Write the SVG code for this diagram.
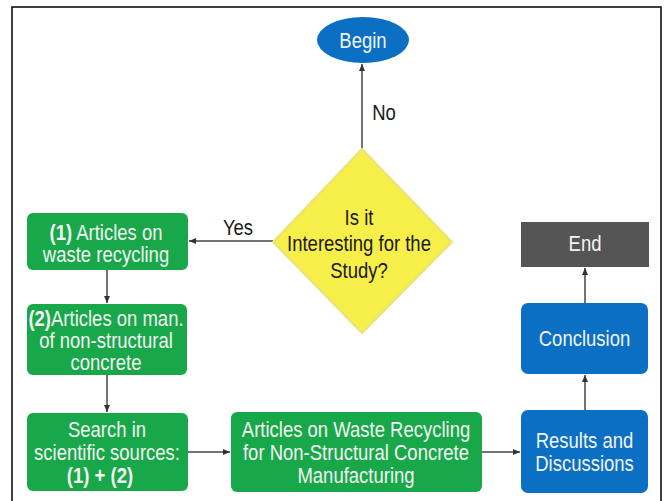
<svg xmlns="http://www.w3.org/2000/svg" width="665" height="501" viewBox="0 0 665 501">
<defs>
<style>
.t{font-family:"Liberation Sans",Arial,sans-serif;font-size:18.5px;text-anchor:middle}
.w{fill:#f2f4f2}
.d{fill:#1a1a1a}
.g{fill:#18a84a}
.b{fill:#0b6fc3}
.c{stroke:#444;stroke-width:1.5;fill:none;marker-end:url(#ah)}
</style>
<marker id="ah" markerUnits="userSpaceOnUse" markerWidth="8" markerHeight="8" refX="7" refY="4" orient="auto">
<path d="M0,1 L7,4 L0,7 Z" fill="#333"/>
</marker>
</defs>
<rect width="665" height="501" fill="#fff"/>
<rect x="12" y="7" width="649" height="520" fill="none" stroke="#111" stroke-width="1.6"/>
<g id="connectors">
<path class="c" d="M362,150 L362,64"/>
<path class="c" d="M273,241 L189,241"/>
<path class="c" d="M107,270 L107,303"/>
<path class="c" d="M107,375 L107,412"/>
<path class="c" d="M188,452 L230,452"/>
<path class="c" d="M482,452 L520,452"/>
<path class="c" d="M585,410 L585,375"/>
<path class="c" d="M585,303 L585,268"/>
<text class="t d" transform="translate(384,119.5) scale(1,1.18)">No</text>
<text class="t d" transform="translate(238,234.5) scale(1,1.18)">Yes</text>
</g>
<g id="begin">
<ellipse cx="363" cy="40" rx="46" ry="23" class="b"/>
<text class="t w" transform="translate(363,47.5) scale(1,1.18)">Begin</text>
</g>
<g id="decision">
<polygon points="362,149 452,242 362,333 273,242" fill="#f6ef4a" stroke="#ebe27a" stroke-width="2"/>
<text class="t d" transform="translate(359,224.5) scale(1,1.18)">Is it</text>
<text class="t d" transform="translate(359,250.5) scale(1,1.18)">Interesting for the</text>
<text class="t d" transform="translate(359,277.5) scale(1,1.18)">Study?</text>
</g>
<g id="n1">
<rect x="27" y="213" width="161" height="57" rx="6" class="g"/>
<text class="t w" transform="translate(106,239.5) scale(1,1.18)"><tspan font-weight="bold">(1)</tspan> Articles on</text>
<text class="t w" transform="translate(106,261.5) scale(1,1.18)">waste recycling</text>
</g>
<g id="n2">
<rect x="27" y="304" width="160" height="71" rx="6" class="g"/>
<text class="t w" transform="translate(106,325.5) scale(1,1.18)"><tspan font-weight="bold">(2)</tspan>Articles on man.</text>
<text class="t w" transform="translate(106,347.5) scale(1,1.18)">of non-structural</text>
<text class="t w" transform="translate(106,369.5) scale(1,1.18)">concrete</text>
</g>
<g id="n3">
<rect x="27" y="413" width="161" height="78" rx="6" class="g"/>
<text class="t w" transform="translate(107,436.5) scale(1,1.18)">Search in</text>
<text class="t w" transform="translate(107,459.5) scale(1,1.18)">scientific sources:</text>
<text class="t w" font-weight="bold" transform="translate(100,482.5) scale(1,1.18)">(1) + (2)</text>
</g>
<g id="n4">
<rect x="231" y="412" width="251" height="80" rx="6" class="g"/>
<text class="t w" transform="translate(356,436.5) scale(1,1.18)">Articles on Waste Recycling</text>
<text class="t w" transform="translate(356,459.5) scale(1,1.18)">for Non-Structural Concrete</text>
<text class="t w" transform="translate(356,482.5) scale(1,1.18)">Manufacturing</text>
</g>
<g id="results">
<rect x="521" y="410" width="127" height="83" rx="7" class="b"/>
<text class="t w" transform="translate(584.5,447.5) scale(1,1.18)">Results and</text>
<text class="t w" transform="translate(584.5,470.5) scale(1,1.18)">Discussions</text>
</g>
<g id="conclusion">
<rect x="521" y="303" width="127" height="71" rx="7" class="b"/>
<text class="t w" transform="translate(584.5,345.5) scale(1,1.18)">Conclusion</text>
</g>
<g id="end">
<rect x="521" y="222" width="128" height="45" fill="#555"/>
<text class="t w" transform="translate(585,250.5) scale(1,1.18)">End</text>
</g>
</svg>
